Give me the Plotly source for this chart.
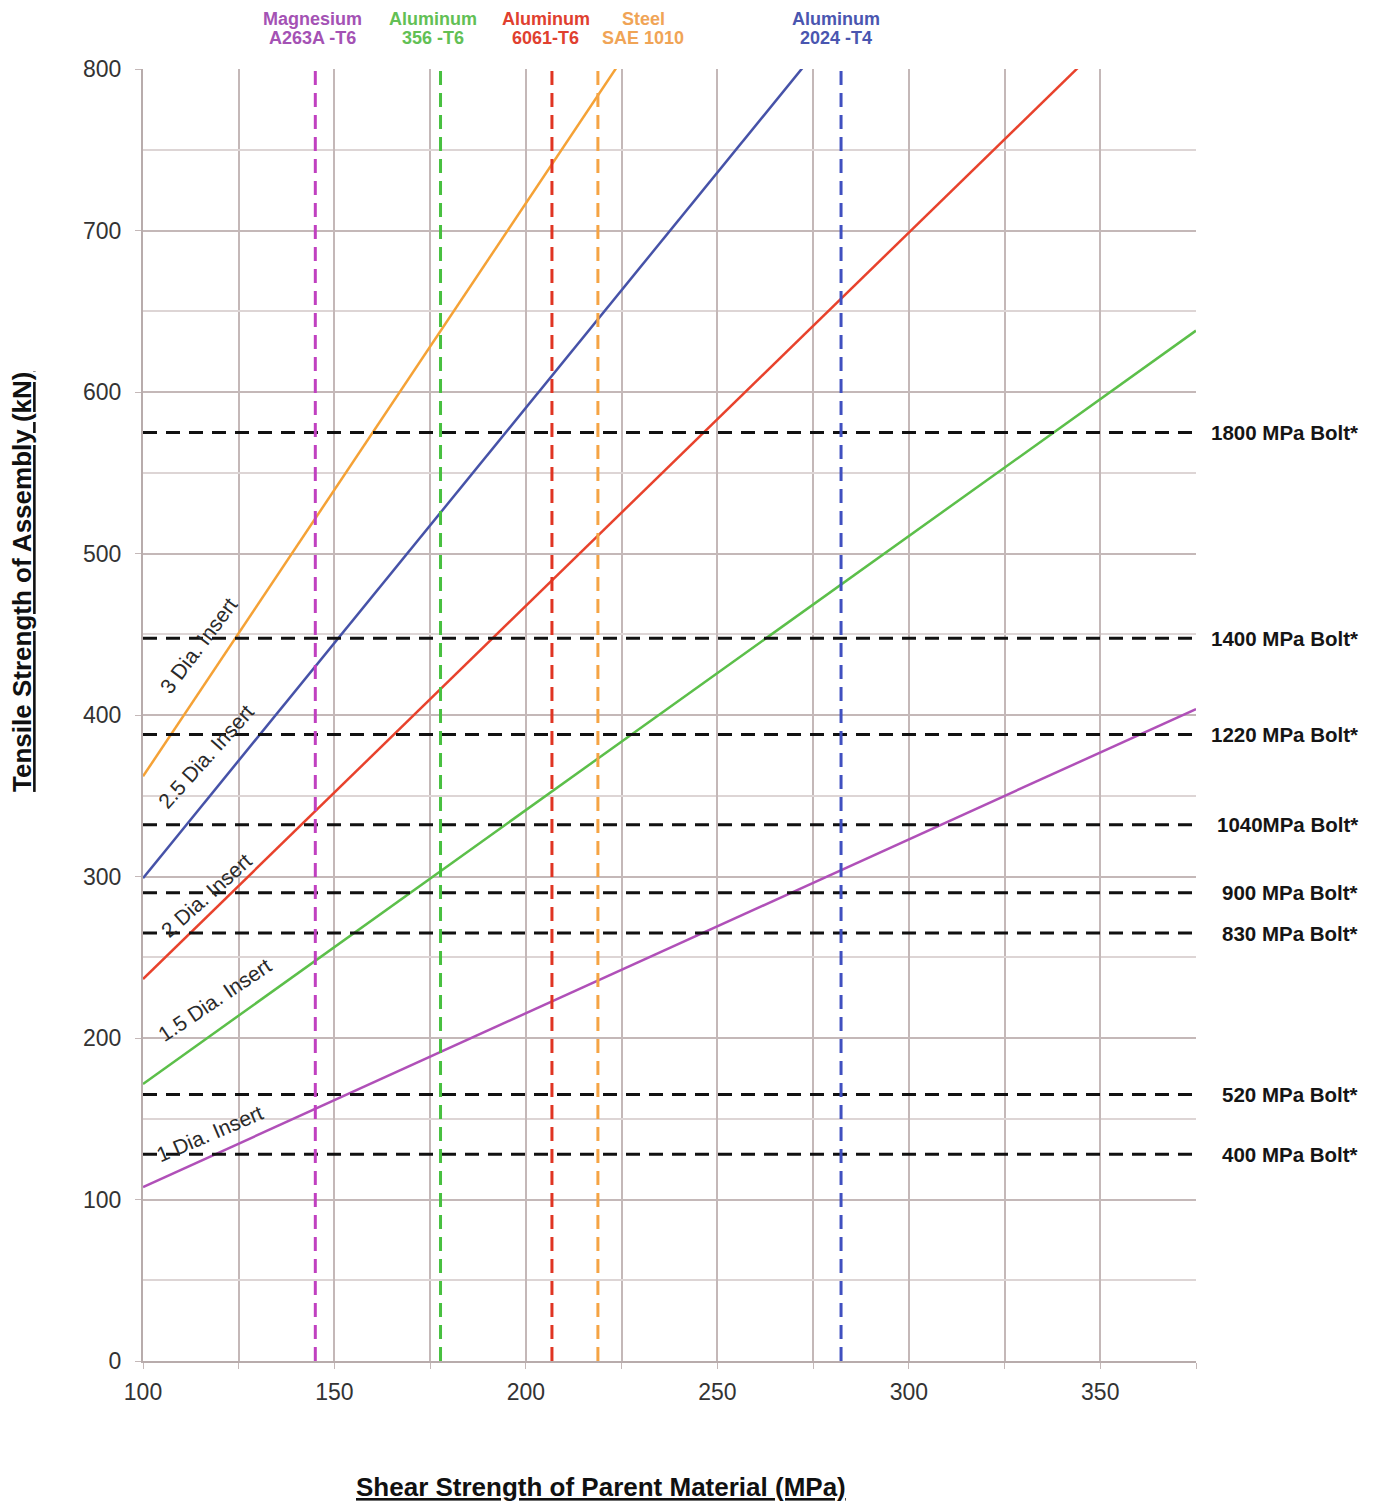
import plotly.graph_objects as go

# ---- data ----
shear_x = [100, 375]
insert_names = ["1 Dia. Insert", "1.5 Dia. Insert", "2 Dia. Insert", "2.5 Dia. Insert", "3 Dia. Insert"]
insert_y = [
    [107.7, 403.7],
    [171.5, 638.0],
    [236.5, 872.0],
    [299.0, 1100.0],
    [362.0, 1338.0],
]
insert_colors = ["#b050b8", "#5cbf4a", "#e8422c", "#4652a8", "#f5a236"]
insert_label_pos = [(117.4, 141), (118.8, 224), (116.5, 288), (116.5, 374), (114.5, 443)]
insert_label_angle = [-23, -34, -42, -48, -53]

bolt_labels = ["1800 MPa Bolt*", "1400 MPa Bolt*", "1220 MPa Bolt*", "1040MPa Bolt*",
               "900 MPa Bolt*", "830 MPa Bolt*", "520 MPa Bolt*", "400 MPa Bolt*"]
bolt_values = [575, 447.5, 388, 332, 290, 265, 165, 128]

material_line1 = ["Magnesium", "Aluminum", "Aluminum", "Steel", "Aluminum"]
material_line2 = ["A263A -T6", "356 -T6", "6061-T6", "SAE 1010", "2024 -T4"]
material_shear = [145, 177.7, 206.8, 218.8, 282.3]
material_label_x = [144.3, 175.8, 205.2, 230.7, 281.0]
material_colors = ["#c040c0", "#48c040", "#e03422", "#f5a444", "#4050c0"]
material_text_colors = ["#a452b4", "#62c055", "#e0402f", "#f0a456", "#4a56b0"]

FONT = "Liberation Sans, Arial"

fig = go.Figure()

for name, ys, c in zip(insert_names, insert_y, insert_colors):
    fig.add_trace(go.Scatter(x=shear_x, y=ys, mode="lines", name=name,
                             line=dict(color=c, width=2.5), showlegend=False))

for v in bolt_values:
    fig.add_trace(go.Scatter(x=shear_x, y=[v, v], mode="lines", showlegend=False,
                             line=dict(color="#111111", width=3, dash="14px,9px")))

for xs, c in zip(material_shear, material_colors):
    fig.add_trace(go.Scatter(x=[xs, xs], y=[0, 800], mode="lines", showlegend=False,
                             line=dict(color=c, width=3, dash="14px,8px")))

annotations = []
for name, (lx, ly), ang in zip(insert_names, insert_label_pos, insert_label_angle):
    annotations.append(dict(x=lx, y=ly, xref="x", yref="y", text=name, showarrow=False,
                            textangle=ang, font=dict(size=21, color="#2a2a2a", family=FONT)))
for lab, v in zip(bolt_labels, bolt_values):
    annotations.append(dict(x=1, y=v, xref="paper", yref="y", text="<b>" + lab + "</b>",
                            showarrow=False, xanchor="right", xshift=164,
                            font=dict(size=20.5, color="#151515", family=FONT)))
for l1, l2, lx, c in zip(material_line1, material_line2, material_label_x, material_text_colors):
    annotations.append(dict(x=lx, y=1, xref="x", yref="paper", text="<b>" + l1 + "</b>",
                            showarrow=False, yanchor="middle", yshift=50,
                            font=dict(size=18, color=c, family=FONT)))
    annotations.append(dict(x=lx, y=1, xref="x", yref="paper", text="<b>" + l2 + "</b>",
                            showarrow=False, yanchor="middle", yshift=31,
                            font=dict(size=18, color=c, family=FONT)))
annotations.append(dict(x=0.435, y=0, xref="paper", yref="paper", yanchor="middle",
                        xanchor="center", yshift=-126,
                        text="<b><u>Shear Strength of Parent Material (MPa)</u></b>",
                        showarrow=False, font=dict(size=26, color="#111111", family=FONT)))
annotations.append(dict(x=0, y=0.603, xref="paper", yref="paper", xanchor="center",
                        yanchor="middle", xshift=-121,
                        text="<b><u>Tensile Strength of Assembly (kN)</u></b>", textangle=-90,
                        showarrow=False, font=dict(size=26, color="#111111", family=FONT)))

fig.update_layout(
    width=1376, height=1502,
    margin=dict(l=135, r=188, t=61, b=149),
    paper_bgcolor="white", plot_bgcolor="white",
    annotations=annotations,
    font=dict(family=FONT, size=20, color="#333333"),
)
fig.update_xaxes(range=[100, 375], dtick=50, tick0=100, showgrid=True,
                 gridcolor="#c4b8b8", gridwidth=2,
                 minor=dict(dtick=25, showgrid=True, gridcolor="#c4b8b8", gridwidth=2,
                            ticks="outside", ticklen=6, tickcolor="#c4b8b8"),
                 ticks="outside", ticklen=6, tickcolor="#c4b8b8", ticklabelstandoff=3,
                 showline=True, linecolor="#b8acac", linewidth=2,
                 tickfont=dict(size=23, color="#333333"), zeroline=False)
fig.update_yaxes(range=[0, 800], dtick=100, showgrid=True,
                 gridcolor="#c4b8b8", gridwidth=2,
                 minor=dict(dtick=50, showgrid=True, gridcolor="#ddd5d5", gridwidth=1.5),
                 ticks="outside", ticklen=6, tickcolor="#c4b8b8", ticklabelstandoff=9,
                 showline=True, linecolor="#b8acac", linewidth=2,
                 tickfont=dict(size=23, color="#333333"), zeroline=False)

fig.write_html("out.html")
